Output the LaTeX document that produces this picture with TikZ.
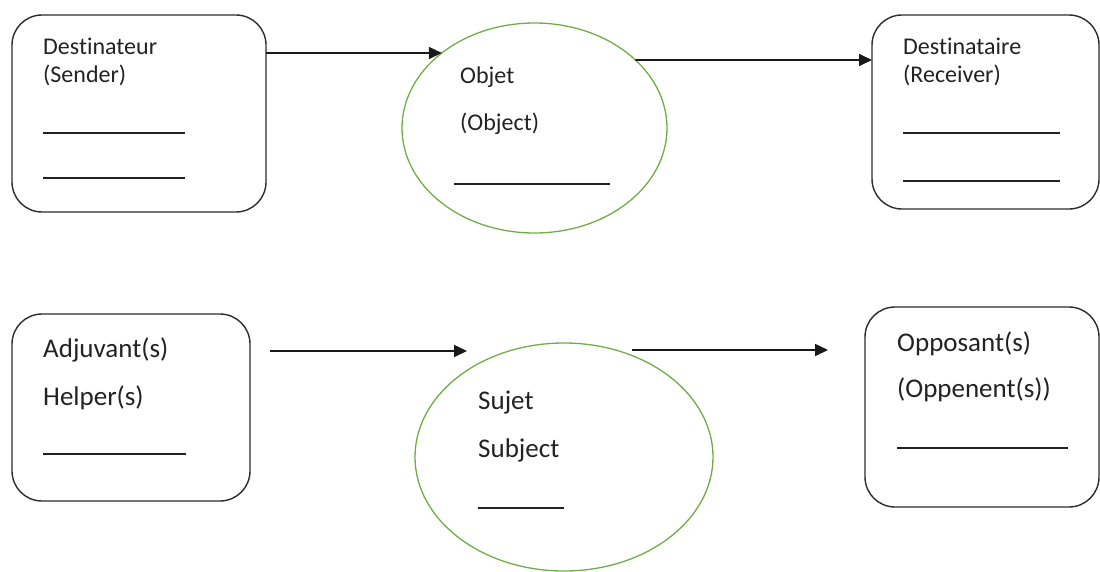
\documentclass[tikz,border=0pt]{standalone}
\usepackage{fontspec}
\setmainfont{Carlito}[Ligatures=NoCommon]
\usetikzlibrary{arrows.meta,shapes.geometric}
\definecolor{ink}{HTML}{222222}
\definecolor{frame}{HTML}{2B2B2B}
\definecolor{ring}{HTML}{70AD47}
\tikzset{
  actbox/.style={draw=frame, line width=1.4pt, rounded corners=30pt, outer sep=0pt, inner sep=0pt},
  actring/.style={ellipse, draw=ring, line width=1.3pt, outer sep=0pt, inner sep=0pt},
  toptext/.style={anchor=base west, inner sep=0pt, text=ink, font=\fontsize{24}{28}\selectfont},
  lowtext/.style={anchor=base west, inner sep=0pt, text=ink, font=\fontsize{27}{32}\selectfont},
  blank/.style={draw=ink, line width=1.4pt},
  flow/.style={draw=black!90, line width=1.7pt, -{Triangle[length=13pt,width=12pt]}}
}
\begin{document}
\begin{tikzpicture}[x=1pt,y=-1pt]
\useasboundingbox (0,0) rectangle (1100,571);

% --- upper row: sender, object, receiver
\node[actbox, minimum width=254pt, minimum height=197pt] (sender) at (139,113.5) {};
\node[actring, minimum width=265pt, minimum height=210pt] (objet) at (534.5,128) {};
\node[actbox, minimum width=227pt, minimum height=194pt] (receiver) at (985.5,112) {};

\node[toptext] (senderA) at (43,54) {Destinateur};
\node[toptext] (senderB) at (43,82) {(Sender)};
\draw[blank] (43,133) -- (185,133);
\draw[blank] (43,178) -- (185,178);

\node[toptext] (objetA) at (460,83) {Objet};
\node[toptext] (objetB) at (460,130) {(Object)};
\draw[blank] (454,184) -- (610,184);

\node[toptext] (receiverA) at (903,54) {Destinataire};
\node[toptext] (receiverB) at (903,82) {(Receiver)};
\draw[blank] (903,133) -- (1060,133);
\draw[blank] (903,181) -- (1060,181);

\draw[flow] ([yshift=-38pt]sender.north east) -- (objet.141);
\draw[flow] (objet.34) -- ([yshift=-45pt]receiver.north west);

% --- lower row: helpers, subject, opponents
\node[actbox, minimum width=238pt, minimum height=187pt] (helper) at (131,407.5) {};
\node[actring, minimum width=298pt, minimum height=228pt] (subject) at (564,457) {};
\node[actbox, minimum width=234pt, minimum height=200pt] (opponent) at (982,407) {};

\node[lowtext] (helperA) at (43,357) {Adjuvant(s)};
\node[lowtext] (helperB) at (43,405) {Helper(s)};
\draw[blank] (43,454) -- (186,454);

\node[lowtext] (subjectA) at (478,409) {Sujet};
\node[lowtext] (subjectB) at (478,457) {Subject};
\draw[blank] (478,508) -- (564,508);

\node[lowtext] (opponentA) at (897,351) {Opposant(s)};
\node[lowtext] (opponentB) at (897,397) {(Oppenent(s))};
\draw[blank] (897,448) -- (1068,448);

\coordinate (helpOut) at ([shift={(20pt,56.5pt)}]helper.east);
\coordinate (helpIn) at ([shift={(-97pt,-8pt)}]subject.north);
\coordinate (oppOut) at ([shift={(68pt,-7pt)}]subject.north);
\coordinate (oppIn) at ([shift={(-37pt,57pt)}]opponent.west);
\draw[flow] (helpOut) -- (helpIn);
\draw[flow] (oppOut) -- (oppIn);
\end{tikzpicture}
\end{document}
